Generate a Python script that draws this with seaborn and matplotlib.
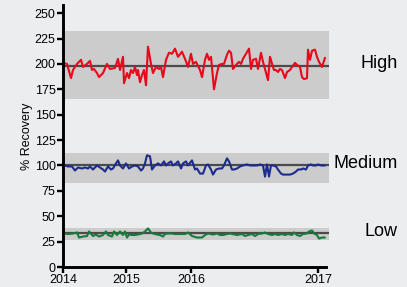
"""Recovery control chart: High / Medium / Low spikes over time."""

import matplotlib
matplotlib.use("Agg")
import matplotlib.pyplot as plt
import seaborn as sns
import pandas as pd


# time axis in sampling units, year ticks sit at uneven positions
YEAR_TICKS = [0, 63, 128, 255]
YEAR_LABELS = ["2014", "2015", "2016", "2017"]

HIGH_T = [0, 4, 8, 10, 14, 18, 20, 24, 27, 29, 31, 34, 36, 40, 44, 47, 52, 55, 57, 60,
          61, 64, 66, 68, 70, 72, 74, 75, 77, 79, 81, 83, 85, 88, 90, 93, 96, 98, 100, 103,
          106, 109, 112, 115, 119, 122, 125, 128, 130, 133, 134, 137, 139, 142, 144, 146, 148, 151,
          154, 156, 159, 161, 164, 166, 168, 170, 173, 176, 178, 180, 183, 186, 188, 190, 193, 195,
          198, 200, 202, 205, 207, 210, 211, 213, 215, 217, 219, 222, 224, 227, 229, 232, 234, 237,
          239, 241, 244, 245, 247, 249, 252, 254, 256, 259, 260, 262]
HIGH_V = [201, 200, 186, 194, 200, 204, 197, 200, 203, 194, 195, 191, 187, 191, 200, 195, 196, 205, 194, 207,
          181, 191, 186, 194, 191, 197, 189, 194, 182, 189, 194, 179, 217, 200, 191, 197, 195, 197, 187, 204,
          211, 210, 215, 207, 212, 205, 197, 210, 200, 202, 200, 194, 187, 204, 210, 204, 207, 175,
          191, 199, 200, 200, 209, 213, 211, 195, 199, 202, 200, 205, 210, 215, 195, 204, 205, 195,
          211, 202, 195, 184, 207, 197, 194, 194, 192, 195, 194, 186, 192, 194, 197, 201, 199, 197,
          187, 185, 186, 214, 204, 213, 214, 207, 202, 197, 200, 206]

MED_T = [2, 5, 9, 12, 15, 19, 22, 25, 27, 30, 34, 37, 40, 42, 45, 48, 50, 53, 55, 57,
         60, 63, 66, 69, 72, 75, 78, 80, 82, 84, 87, 89, 92, 95, 98, 101, 103, 105, 108, 110,
         113, 115, 118, 120, 123, 125, 129, 132, 134, 137, 140, 143, 145, 148, 150, 153, 156, 159,
         161, 164, 166, 169, 171, 174, 177, 180, 184, 187, 190, 194, 197, 200, 202, 204, 206, 208,
         210, 213, 215, 218, 220, 224, 227, 230, 233, 235, 238, 240, 243, 245, 248, 250, 253, 255,
         258, 262]
MED_V = [100, 99, 99, 95, 98, 97, 98, 97, 99, 96, 100, 98, 96, 94, 99, 96, 97, 102, 105, 100,
         97, 102, 97, 99, 100, 99, 95, 97, 102, 110, 109, 96, 100, 102, 100, 104, 100, 102, 104, 100,
         102, 104, 97, 102, 104, 100, 105, 96, 97, 92, 92, 100, 101, 96, 91, 96, 97, 97,
         100, 107, 104, 96, 96, 97, 99, 100, 101, 100, 100, 100, 101, 100, 89, 101, 89, 100,
         100, 99, 96, 92, 91, 91, 91, 92, 94, 96, 96, 97, 96, 100, 101, 100, 100, 101,
         100, 100]

LOW_T = [0, 5, 10, 14, 16, 20, 24, 26, 30, 33, 36, 40, 43, 45, 49, 51, 54, 57, 60, 62,
         64, 66, 69, 72, 75, 79, 82, 85, 88, 90, 94, 97, 100, 102, 105, 109, 112, 115, 119, 122,
         125, 129, 134, 139, 142, 145, 150, 154, 157, 160, 164, 167, 174, 179, 182, 185, 189, 192,
         195, 199, 202, 205, 209, 212, 215, 219, 222, 225, 229, 231, 234, 237, 240, 244, 246, 249,
         251, 254, 256, 259, 262]
LOW_V = [33, 32.5, 33, 34, 29, 30, 30.5, 35, 30.5, 32, 30, 31.5, 35, 31.5, 30, 35, 31.5, 35, 31.5, 35,
         29, 32, 31.5, 31.5, 32, 33, 35, 38, 34, 33, 32, 31.5, 30, 32.5, 33, 33, 32.5, 32.5, 32.5, 32.5,
         34, 30.5, 29, 29, 31.5, 33, 32, 33, 31.5, 31.5, 32.5, 33, 31.5, 32.5, 30.5, 31.5, 32.5, 30.5,
         32.5, 33, 34, 32.5, 31.5, 32.5, 31.5, 32.5, 31.5, 32.5, 31.5, 34, 31.5, 30.5, 32.5, 33, 35, 36,
         33, 31.5, 28, 29, 29]

# control limits per level: mean, lower, upper
LEVELS = ["High", "Medium", "Low"]
MEANS = [198, 100, 33]
LOWER = [165, 83, 27]
UPPER = [232, 112.5, 38.5]
COLORS = ["#e8081c", "#1c2b8e", "#167a3a"]


def main() -> None:
    sns.set_theme(style="ticks")
    plt.rcParams["font.family"] = ["Liberation Sans", "DejaVu Sans"]
    plt.rcParams["text.color"] = "black"
    plt.rcParams["axes.labelcolor"] = "black"
    plt.rcParams["xtick.color"] = "black"
    plt.rcParams["ytick.color"] = "black"

    frames = [
        pd.DataFrame({"t": HIGH_T, "recovery": HIGH_V, "level": "High"}),
        pd.DataFrame({"t": MED_T, "recovery": MED_V, "level": "Medium"}),
        pd.DataFrame({"t": LOW_T, "recovery": LOW_V, "level": "Low"}),
    ]
    data = pd.concat(frames, ignore_index=True)

    bg = "#ecedef"
    fig = plt.figure(figsize=(4.07, 2.87), dpi=100, facecolor=bg)
    ax = fig.add_axes([63 / 407, 20 / 287, 266 / 407, 262 / 287])
    ax.set_facecolor(bg)

    xmax = 266
    for mean, lo, hi in zip(MEANS, LOWER, UPPER):
        ax.axhspan(lo, hi, color="#cbcccb", zorder=0, lw=0)
        ax.axhline(mean, color="#4b4b4b", lw=1.6, zorder=1)

    sns.lineplot(data=data, x="t", y="recovery", hue="level", hue_order=LEVELS,
                 palette=COLORS, lw=1.5, legend=False, ax=ax, zorder=2)

    for name, mean in zip(LEVELS, MEANS):
        ax.text(335, mean + 2, name, ha="right", va="center", fontsize=13, clip_on=False)

    ax.set_xlim(0, xmax)
    ax.set_ylim(0, 258)
    ax.set_yticks(range(0, 251, 25))
    ax.set_xticks(YEAR_TICKS)
    ax.set_xticklabels(YEAR_LABELS)
    ax.set_xlabel("")
    ax.set_ylabel("% Recovery", fontsize=9, labelpad=1)
    ax.tick_params(labelsize=9, length=4.3, width=1.7, pad=1)

    sns.despine(ax=ax)
    ax.spines["left"].set_linewidth(2.1)
    ax.spines["bottom"].set_linewidth(2.1)
    ax.spines["left"].set_color("black")
    ax.spines["bottom"].set_color("black")
    ax.spines["bottom"].set_bounds(0, 263)

    fig.savefig("out.png", dpi=100, facecolor=bg)


if __name__ == "__main__":
    main()
